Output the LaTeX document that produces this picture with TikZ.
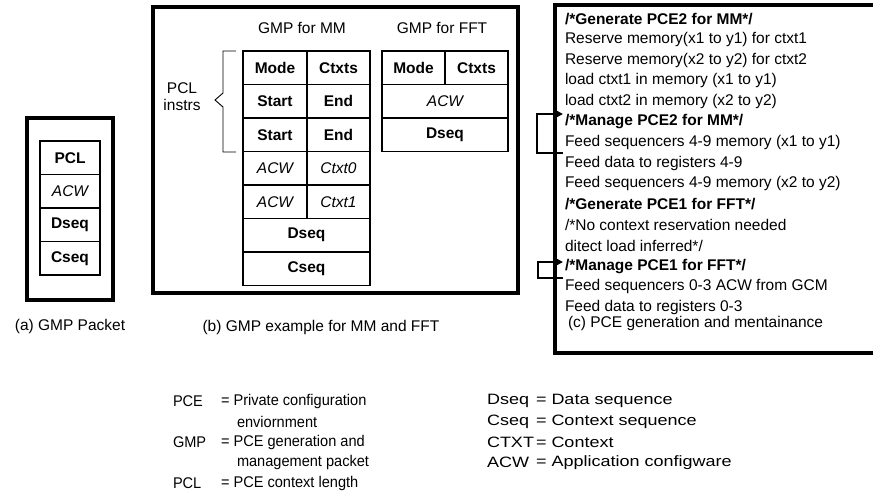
\documentclass[tikz,border=0pt]{standalone}
\usepackage{fontspec}
\setmainfont{Liberation Sans}
\newfontfamily\widesans[FakeStretch=1.2]{Liberation Sans}
\newfontfamily\narrowsans[FakeStretch=0.94]{Liberation Sans}
\usetikzlibrary{arrows.meta}
\begin{document}
\begin{tikzpicture}[x=1pt,y=-1pt,
  every node/.style={font=\fontsize{15.5}{18}\selectfont, inner sep=0pt, outer sep=0pt},
  cell/.style={draw, line width=1.8pt, minimum height=33.5pt},
  cw/.style={cell, minimum width=#1},
  frame/.style={draw, line width=3.5pt},
  txt/.style={anchor=west},
  legl/.style={anchor=west, font=\narrowsans\fontsize{15.5}{18}\selectfont},
  legr/.style={anchor=west, font=\widesans\fontsize{15}{18}\selectfont},
  loopline/.style={line width=2pt},
]
\useasboundingbox (0,0) rectangle (873,496);

% ---------- panel (a)
\node[frame, minimum width=86pt, minimum height=182pt] (pa) at (70,209) {};
\node[cw=60pt] (a1) at (70,157.75) {\bfseries PCL};
\node[cw=60pt] (a2) at (70,191.25) {\itshape ACW};
\node[cw=60pt] (a3) at (70,224.75) {\bfseries Dseq};
\node[cw=60pt] (a4) at (70,258.25) {\bfseries Cseq};
\node (capa) at (70,326) {(a) GMP Packet};

% ---------- panel (b)
\node[frame, minimum width=365pt, minimum height=286pt] (pb) at (335.5,150) {};
\node (hmm) at (302,28) {GMP for MM};
\node (hfft) at (442,28) {GMP for FFT};
% MM table
\node[cw=64pt] (m11) at (275,67.75) {\bfseries Mode};
\node[cw=63pt] (m12) at (338.5,67.75) {\bfseries Ctxts};
\node[cw=64pt] (m21) at (275,101.25) {\bfseries Start};
\node[cw=63pt] (m22) at (338.5,101.25) {\bfseries End};
\node[cw=64pt] (m31) at (275,134.75) {\bfseries Start};
\node[cw=63pt] (m32) at (338.5,134.75) {\bfseries End};
\node[cw=64pt] (m41) at (275,168.25) {\itshape ACW};
\node[cw=63pt] (m42) at (338.5,168.25) {\itshape Ctxt0};
\node[cw=64pt] (m51) at (275,201.75) {\itshape ACW};
\node[cw=63pt] (m52) at (338.5,201.75) {\itshape Ctxt1};
\node[cw=127pt] (m6) at (306.5,235.25) {\bfseries Dseq};
\node[cw=127pt] (m7) at (306.5,268.75) {\bfseries Cseq};
% FFT table
\node[cw=63pt] (f11) at (413.5,67.75) {\bfseries Mode};
\node[cw=63pt] (f12) at (476.5,67.75) {\bfseries Ctxts};
\node[cw=126pt] (f2) at (445,101.25) {\itshape ACW};
\node[cw=126pt] (f3) at (445,134.75) {\bfseries Dseq};
% brace
\coordinate (bt) at (236,51);
\coordinate (bb) at (236,152);
\draw[line width=0.9pt] (bt) -- (223,51) -- (223,93) -- (215,100) -- (223,107) -- (223,152) -- (bb);
\node (pcl) at (182,88) {PCL};
\node (instrs) at (182,105) {instrs};
\node (capb) at (321,327) {(b) GMP example for MM and FFT};

% ---------- panel (c)
\draw[line width=4pt] (890,5) -- (555,5) -- (555,353) -- (890,353);
\node[txt] (c0) at (565,19) {\bfseries /*Generate PCE2 for MM*/};
\node[txt] (c1) at (565,39.6) {Reserve memory(x1 to y1) for ctxt1};
\node[txt] (c2) at (565,60.2) {Reserve memory(x2 to y2) for ctxt2};
\node[txt] (c3) at (565,80.8) {load ctxt1 in memory (x1 to y1)};
\node[txt] (c4) at (565,101.4) {load ctxt2 in memory (x2 to y2)};
\node[txt] (c5) at (565,122) {\bfseries /*Manage PCE2 for MM*/};
\node[txt] (c6) at (565,142.6) {Feed sequencers 4-9 memory (x1 to y1)};
\node[txt] (c7) at (565,163.2) {Feed data to registers 4-9};
\node[txt] (c8) at (565,183.8) {Feed sequencers 4-9 memory (x2 to y2)};
\node[txt] (c9) at (565,204.4) {\bfseries /*Generate PCE1 for FFT*/};
\node[txt] (c10) at (565,225) {/*No context reservation needed};
\node[txt] (c11) at (565,245.6) {ditect load inferred*/};
\node[txt] (c12) at (565,266.2) {\bfseries /*Manage PCE1 for FFT*/};
\node[txt] (c13) at (565,286.8) {Feed sequencers 0-3 ACW from GCM};
\node[txt] (c14) at (565,307.4) {Feed data to registers 0-3};
\node[txt] (capc) at (568,323) {(c) PCE generation and mentainance};
% loops
\coordinate (l1b) at (563,153);
\coordinate (l1t) at (563,114);
\draw[loopline, -{Triangle[length=7pt,width=7pt]}] (l1b) -- (537,153) -- (537,114) -- (l1t);
\coordinate (l2b) at (563,278);
\coordinate (l2t) at (563,262);
\draw[loopline, -{Triangle[length=7pt,width=7pt]}] (l2b) -- (538,278) -- (538,262) -- (l2t);

% ---------- legend
\node[legl] (lpce) at (173,401) {PCE};
\node[legl] (lpcee) at (221,401) {= Private configuration};
\node[legl] (lpce2) at (237,421.5) {enviornment};
\node[legl] (lgmp) at (173,442) {GMP};
\node[legl] (lgmpe) at (221,442) {= PCE generation and};
\node[legl] (lgmp2) at (237,462.5) {management packet};
\node[legl] (lpcl) at (173,483) {PCL};
\node[legl] (lpcle) at (221,483) {= PCE context length};

\node[legr] (ldseq) at (487,401) {Dseq};
\node[legr] (ldseqe) at (536,401) {= Data sequence};
\node[legr] (lcseq) at (487,421.5) {Cseq};
\node[legr] (lcseqe) at (536,421.5) {= Context sequence};
\node[legr] (lctxt) at (487,442) {CTXT};
\node[legr] (lctxte) at (536,442) {= Context};
\node[legr] (lacw) at (487,462.5) {ACW};
\node[legr] (lacwe) at (536,462.5) {= Application configware};
\end{tikzpicture}
\end{document}
